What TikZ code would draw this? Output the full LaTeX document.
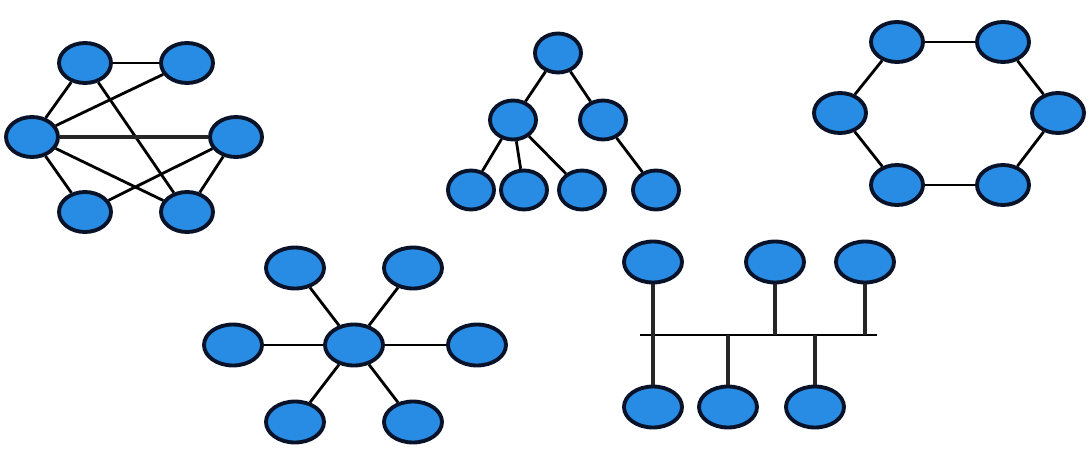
\documentclass[tikz,border=0pt]{standalone}
\usetikzlibrary{shapes.geometric}

\definecolor{nodeBlue}{RGB}{40,140,228}
\definecolor{nodeRim}{RGB}{8,18,40}

\begin{document}
\begin{tikzpicture}[x=0.02cm,y=-0.02cm,
    host/.style={ellipse,draw=nodeRim,fill=nodeBlue,line width=2.2pt,inner sep=0pt,minimum width=1.04cm,minimum height=0.8cm},
    smallhost/.style={host,minimum width=0.92cm,minimum height=0.78cm},
    bighost/.style={host,minimum width=1.16cm,minimum height=0.82cm},
    link/.style={line width=1.6pt,draw=black},
    trunk/.style={line width=2.4pt,draw=black!85}]
    \useasboundingbox (0,0) rectangle (1089,450);

    % mesh
    \node[host] (meshA) at (85,63) {};
    \node[host] (meshB) at (187,63) {};
    \node[host] (meshC) at (32,137) {};
    \node[host] (meshD) at (236,137) {};
    \node[host] (meshE) at (85,212) {};
    \node[host] (meshF) at (187,212) {};

    %mesh links
    \draw[link] (meshA) to (meshB);
    \draw[link] (meshA) to (meshC);
    \draw[link] (meshA) to (meshF);
    \draw[link] (meshB) to (meshC);
    \draw[trunk] (meshC) to (meshD);
    \draw[link] (meshC) to (meshE);
    \draw[link] (meshC) to (meshF);
    \draw[link] (meshD) to (meshE);
    \draw[link] (meshD) to (meshF);

    % tree
    \node[smallhost] (treeRoot) at (558,53) {};
    \node[smallhost] (treeL) at (513,120) {};
    \node[smallhost] (treeR) at (603,120) {};
    \node[smallhost] (leafA) at (471,190) {};
    \node[smallhost] (leafB) at (524,190) {};
    \node[smallhost] (leafC) at (582,190) {};
    \node[smallhost] (leafD) at (656,190) {};

    %tree links
    \draw[link] (treeRoot) to (treeL);
    \draw[link] (treeRoot) to (treeR);
    \draw[link] (treeL) to (leafA);
    \draw[link] (treeL) to (leafB);
    \draw[link] (treeL) to (leafC);
    \draw[link] (treeR) to (leafD);

    % ring
    \node[host] (ringTL) at (897,42) {};
    \node[host] (ringTR) at (1003,42) {};
    \node[host] (ringL) at (840,113) {};
    \node[host] (ringR) at (1058,113) {};
    \node[host] (ringBL) at (897,185) {};
    \node[host] (ringBR) at (1003,185) {};

    %ring links
    \draw[link] (ringTL) to (ringTR);
    \draw[link] (ringTR) to (ringR);
    \draw[link] (ringR) to (ringBR);
    \draw[link] (ringBR) to (ringBL);
    \draw[link] (ringBL) to (ringL);
    \draw[link] (ringL) to (ringTL);

    % star
    \node[bighost] (hub) at (354,345) {};
    \node[bighost] (starTL) at (295,268) {};
    \node[bighost] (starTR) at (413,268) {};
    \node[bighost] (starL) at (233,345) {};
    \node[bighost] (starR) at (477,345) {};
    \node[bighost] (starBL) at (295,422) {};
    \node[bighost] (starBR) at (413,422) {};

    %star links
    \draw[link] (hub) to (starTL);
    \draw[link] (hub) to (starTR);
    \draw[link] (hub) to (starL);
    \draw[link] (hub) to (starR);
    \draw[link] (hub) to (starBL);
    \draw[link] (hub) to (starBR);

    % bus
    \coordinate (busW) at (640,335);
    \coordinate (busE) at (877,335);
    \node[bighost] (busT1) at (653,262) {};
    \node[bighost] (busT2) at (775,262) {};
    \node[bighost] (busT3) at (865,262) {};
    \node[bighost] (busB1) at (653,407) {};
    \node[bighost] (busB2) at (728,407) {};
    \node[bighost] (busB3) at (815,407) {};

    %bus links
    \draw[link] (busW) to (busE);
    \draw[trunk] (busT1) to (busT1 |- busW);
    \draw[trunk] (busT2) to (busT2 |- busW);
    \draw[trunk] (busT3) to (busT3 |- busW);
    \draw[trunk] (busB1) to (busB1 |- busW);
    \draw[trunk] (busB2) to (busB2 |- busW);
    \draw[trunk] (busB3) to (busB3 |- busW);

\end{tikzpicture}
\end{document}
